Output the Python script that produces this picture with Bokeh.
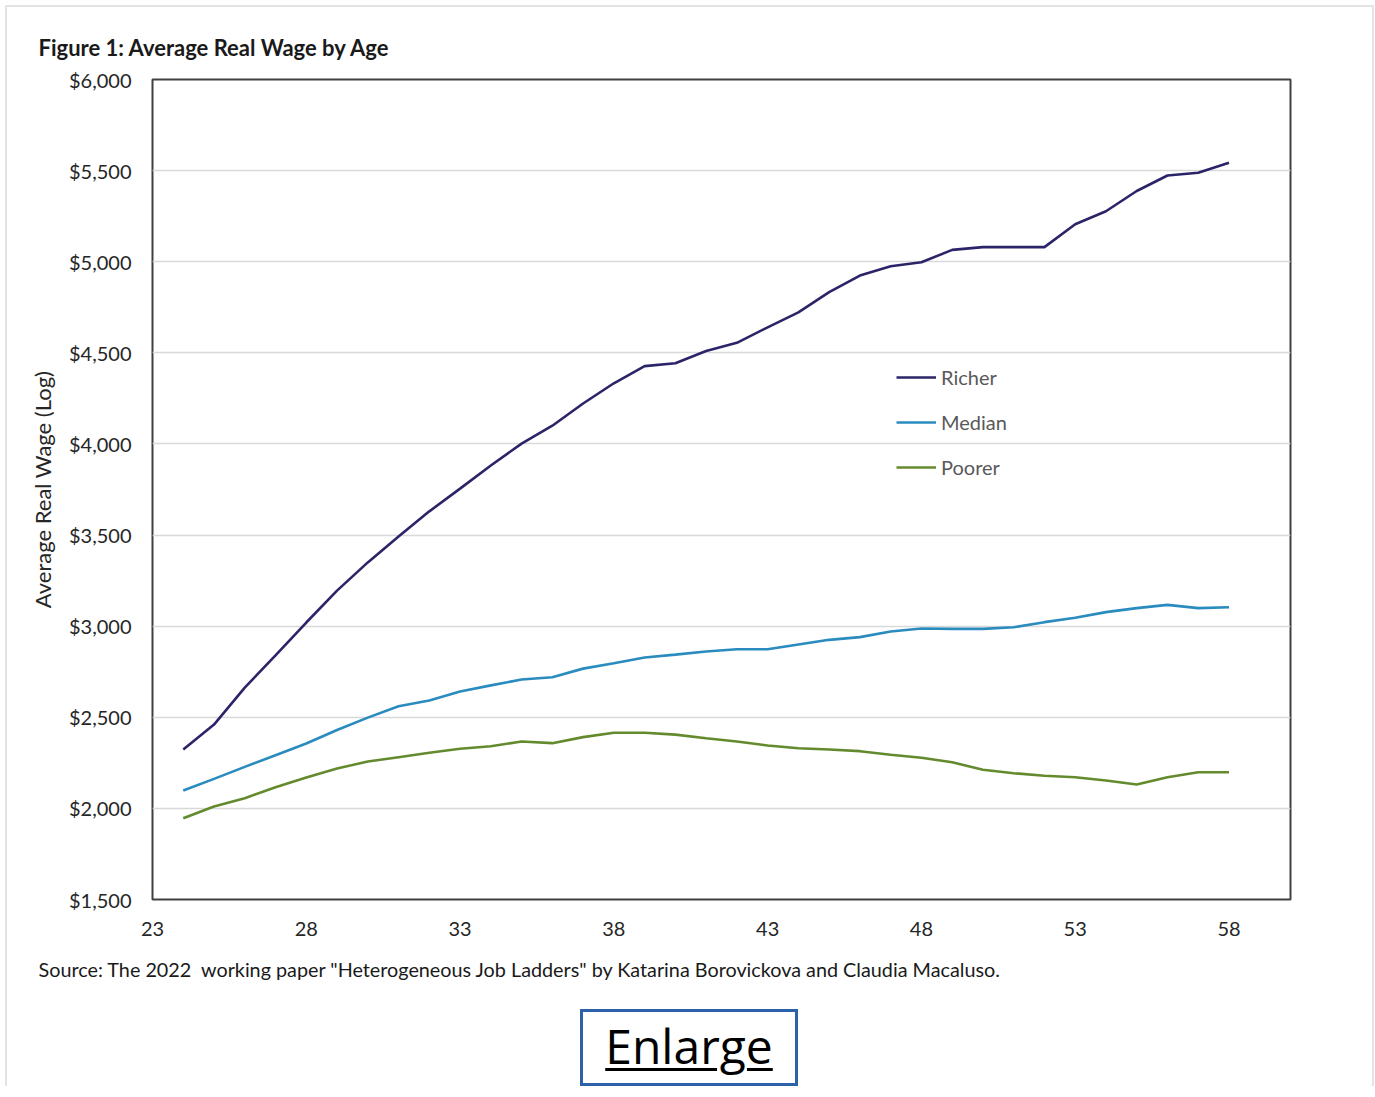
from bokeh.plotting import figure
from bokeh.models import (ColumnDataSource, FixedTicker, NumeralTickFormatter, Title,
                          Legend, LegendItem, Range1d, Div)
from bokeh.layouts import column
from bokeh.embed import file_html
from bokeh.resources import INLINE

# Average real wage by age for three groups of workers
ages = list(range(24, 59))
richer = [2323, 2460, 2663, 2840, 3020, 3195, 3350, 3492, 3630, 3755, 3882, 4002, 4100,
          4222, 4333, 4427, 4443, 4510, 4555, 4640, 4722, 4833, 4924, 4975, 4997, 5065,
          5080, 5080, 5080, 5206, 5277, 5388, 5473, 5488, 5543]
median = [2098, 2162, 2228, 2292, 2356, 2430, 2498, 2561, 2592, 2641, 2675, 2707, 2720,
          2767, 2797, 2828, 2844, 2861, 2873, 2873, 2899, 2925, 2940, 2971, 2987, 2985,
          2985, 2994, 3022, 3046, 3077, 3099, 3117, 3099, 3104]
poorer = [1946, 2010, 2056, 2116, 2169, 2219, 2257, 2281, 2305, 2327, 2341, 2367, 2358,
          2391, 2415, 2415, 2405, 2385, 2367, 2345, 2330, 2323, 2314, 2294, 2278, 2253,
          2212, 2193, 2179, 2171, 2153, 2131, 2171, 2198, 2198]

series_names = ["Richer", "Median", "Poorer"]
series_colors = ["#2B2468", "#2A8BBF", "#648A2E"]
x_ticks = [23, 28, 33, 38, 43, 48, 53, 58]
y_ticks = [1500, 2000, 2500, 3000, 3500, 4000, 4500, 5000, 5500, 6000]

FONT = "Lato"
PAD = 7                      # page frame thickness + gap
FIG_W, FIG_H = 1365, 993

src = ColumnDataSource(dict(age=ages, richer=richer, median=median, poorer=poorer))

p = figure(width=FIG_W, height=FIG_H, output_backend="svg", toolbar_location=None,
           x_range=Range1d(23, 60), y_range=Range1d(1500, 6000),
           min_border_left=152 - PAD, min_border_right=82,
           min_border_top=79 - PAD, min_border_bottom=101)
p.background_fill_color = "white"
p.border_fill_color = "white"
p.outline_line_color = "#404040"
p.outline_line_width = 2

p.title = Title(text="Figure 1: Average Real Wage by Age", align="left", offset=-114,
                standoff=38, text_font=FONT, text_font_size="22px",
                text_font_style="bold", text_color="#1a1a1a")

p.add_layout(Title(text='Source: The 2022\u00a0 working paper "Heterogeneous Job Ladders" by '
                        'Katarina Borovickova and Claudia Macaluso.',
                   align="left", offset=-114, standoff=32, text_font=FONT,
                   text_font_size="19.8px", text_font_style="normal",
                   text_color="#1a1a1a"), "below")

# axes
p.xaxis.ticker = FixedTicker(ticks=x_ticks)
p.yaxis.ticker = FixedTicker(ticks=y_ticks)
p.yaxis.formatter = NumeralTickFormatter(format="$0,0")
for ax in (p.xaxis[0], p.yaxis[0]):
    ax.axis_line_color = None
    ax.major_tick_line_color = None
    ax.minor_tick_line_color = None
    ax.major_tick_out = 0
    ax.major_tick_in = 0
    ax.major_label_text_font = FONT
    ax.major_label_text_font_size = "20px"
    ax.major_label_text_color = "#262626"
p.yaxis.major_label_standoff = 21
p.xaxis.major_label_standoff = 22
p.yaxis.axis_label = "Average Real Wage (Log)"
p.yaxis.axis_label_text_font = FONT
p.yaxis.axis_label_text_font_size = "22px"
p.yaxis.axis_label_text_font_style = "normal"
p.yaxis.axis_label_text_color = "#262626"
p.yaxis.axis_label_standoff = 10

p.xgrid.grid_line_color = None
p.ygrid.grid_line_color = "#d9d9d9"
p.ygrid.grid_line_width = 1.6

renderers = []
for key, name, color in zip(["richer", "median", "poorer"], series_names, series_colors):
    r = p.line("age", key, source=src, line_color=color, line_width=2.6)
    renderers.append((name, r))

legend = Legend(items=[LegendItem(label=n, renderers=[r]) for n, r in renderers],
                location=(744, 420), orientation="vertical",
                glyph_width=40, glyph_height=20, label_height=20, spacing=21,
                padding=0, margin=0, label_standoff=5,
                label_text_font=FONT, label_text_font_size="20px",
                label_text_color="#595959",
                border_line_color=None, background_fill_alpha=0)
p.add_layout(legend)

# link button under the chart
enlarge = Div(text='<span style="text-decoration: underline; text-decoration-thickness: 3px;'
                   ' text-underline-offset: 4px;">Enlarge</span>',
              width=212, height=71, margin=(9, 0, 0, 580 - PAD),
              styles={"border": "3px solid #2E62A8", "font-family": "Open Sans",
                      "font-size": "48px", "color": "black", "text-align": "center",
                      "line-height": "68px", "box-sizing": "content-box"})

page = column(p, enlarge, margin=(5, 0, 0, 5), spacing=0,
              styles={"border-top": "2px solid #e3e3e3", "border-left": "2px solid #e3e3e3",
                      "border-right": "2px solid #e3e3e3"})

open("out.html", "w").write(file_html(page, INLINE))
